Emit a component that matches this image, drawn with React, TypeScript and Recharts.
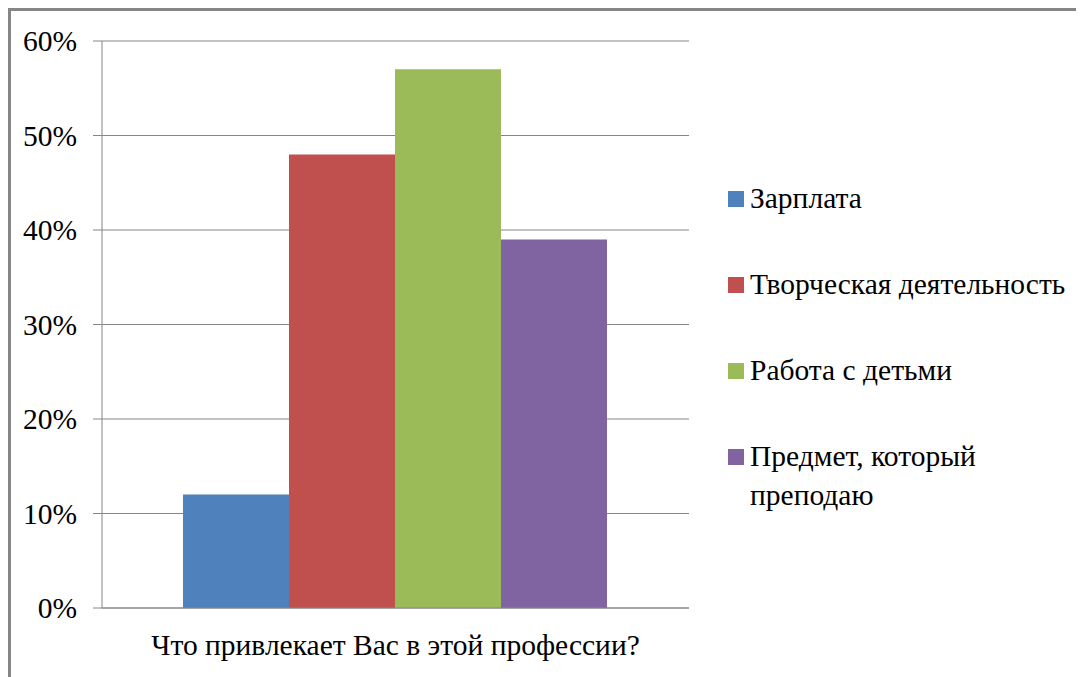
import { Bar, BarChart, CartesianGrid, XAxis, YAxis } from "recharts";

// Одна категория, четыре ряда (доли ответов)
const categories = ["Что привлекает Вас в этой профессии?"];
const seriesNames = ["Зарплата", "Творческая деятельность", "Работа с детьми", "Предмет, который преподаю"];
const seriesValues = [0.12, 0.48, 0.57, 0.39];
const seriesColors = ["#4F81BD", "#C0504D", "#9BBB59", "#8064A2"];
const yTicks = [0, 0.1, 0.2, 0.3, 0.4, 0.5, 0.6];
// границы категории — засечки как в Excel
const edgeTicks = [0, 1];

const FONT = "Liberation Serif";
const FS = 29.5;
const GRID = "#868686";

const data = categories.map((c) => {
  const row: Record<string, string | number> = { name: c };
  seriesNames.forEach((s, i) => {
    row[`s${i}`] = seriesValues[i];
  });
  return row;
});

// легенда справа, отдельным блоком, чтобы не съедала ширину графика
function LegendBox() {
  return (
    <div style={{ position: "absolute", left: 717, top: 168, width: 362, fontFamily: FONT }}>
      {seriesNames.map((s, i) => (
        <div key={s} style={{ display: "flex", alignItems: "flex-start", height: 86 }}>
          <span
            style={{
              display: "inline-block",
              width: 16,
              height: 16,
              background: seriesColors[i],
              marginTop: 12,
              marginRight: 6,
              flex: "none",
            }}
          />
          <span style={{ fontFamily: FONT, fontSize: FS, lineHeight: "39px", color: "#000", width: 336 }}>{s}</span>
        </div>
      ))}
    </div>
  );
}

export default function App() {
  return (
    <div
      style={{
        position: "relative",
        width: 1073,
        height: 666,
        borderTop: `3px solid ${GRID}`,
        borderLeft: `3px solid ${GRID}`,
        background: "#fff",
        fontFamily: FONT,
      }}
    >
      <BarChart
        width={1073}
        height={666}
        data={data}
        margin={{ top: 30, right: 395, bottom: 0, left: 0 }}
        barCategoryGap={81}
        barGap={0}
      >
        <CartesianGrid stroke={GRID} vertical={false} xAxisId="cat" />
        <XAxis
          xAxisId="edge"
          type="number"
          domain={[0, 1]}
          ticks={edgeTicks}
          interval={0}
          height={0}
          axisLine={false}
          tickLine={{ stroke: GRID }}
          tickSize={9}
          tickFormatter={() => ""}
        />
        <XAxis
          xAxisId="cat"
          dataKey="name"
          height={69}
          axisLine={{ stroke: GRID }}
          tickLine={false}
          tickSize={0}
          tickMargin={26}
          interval={0}
          tick={{ fill: "#000", fontSize: FS, fontFamily: FONT }}
        />
        <YAxis
          width={91}
          domain={[0, 0.6]}
          ticks={yTicks}
          interval={0}
          tickFormatter={(v: number) => `${Math.round(v * 100)}%`}
          axisLine={{ stroke: GRID }}
          tickLine={{ stroke: GRID }}
          tickSize={9}
          tickMargin={16}
          tick={{ fill: "#000", fontSize: FS, fontFamily: FONT }}
        />
        {seriesNames.map((s, i) => (
          <Bar
            key={s}
            xAxisId="cat"
            dataKey={`s${i}`}
            name={s}
            fill={seriesColors[i]}
            isAnimationActive={false}
          />
        ))}
      </BarChart>
      <LegendBox />
    </div>
  );
}
